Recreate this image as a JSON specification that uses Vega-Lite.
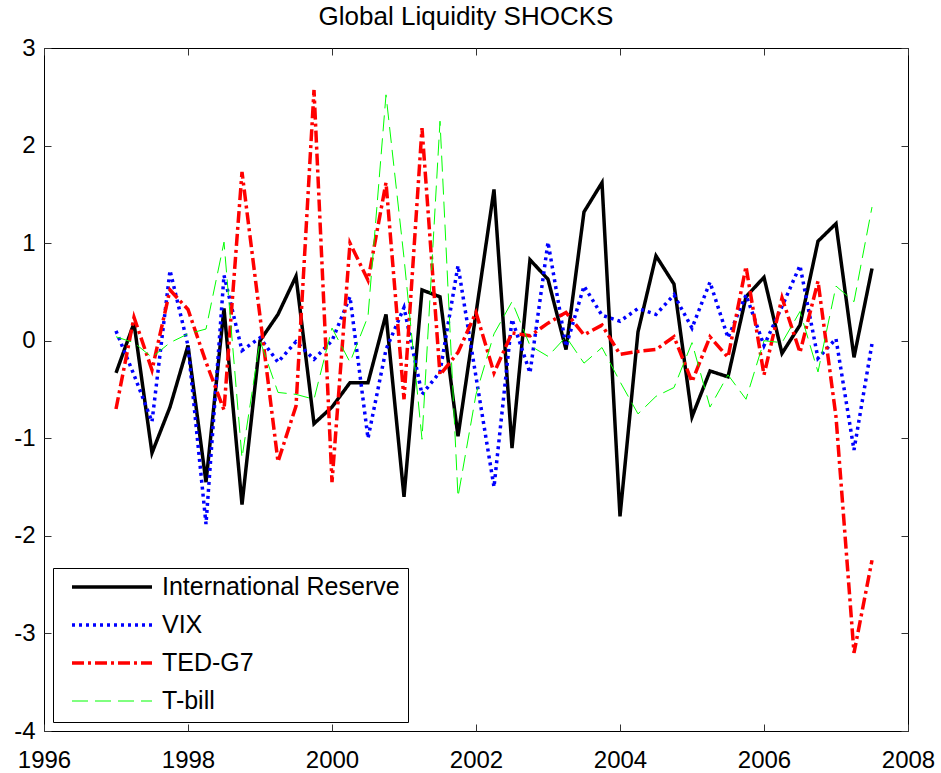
{
  "$schema": "https://vega.github.io/schema/vega-lite/v6.json",
  "width": 864,
  "height": 683,
  "autosize": "none",
  "padding": {"left": 44, "top": 48, "right": 33, "bottom": 42},
  "background": "white",
  "config": {
    "font": "Liberation Sans",
    "view": {"stroke": "black", "strokeWidth": 1},
    "axis": {"grid": false, "domain": false, "tickSize": -7, "tickColor": "#333333", "labelFontSize": 24, "labelColor": "black", "labelFont": "Liberation Sans", "title": null}
  },
  "title": {"text": "Global Liquidity SHOCKS", "fontSize": 26, "fontWeight": "normal", "color": "black", "offset": 6, "dx": -10, "font": "Liberation Sans"},
  "data": {"values": [
    {"date": 1997.00, "International Reserve": -0.33, "VIX": 0.10, "TED-G7": -0.70, "T-bill": 0.04},
    {"date": 1997.25, "International Reserve": 0.18, "VIX": -0.35, "TED-G7": 0.24, "T-bill": -0.02},
    {"date": 1997.50, "International Reserve": -1.15, "VIX": -0.83, "TED-G7": -0.30, "T-bill": -0.17},
    {"date": 1997.75, "International Reserve": -0.68, "VIX": 0.72, "TED-G7": 0.52, "T-bill": -0.02},
    {"date": 1998.00, "International Reserve": -0.05, "VIX": -0.05, "TED-G7": 0.32, "T-bill": 0.07},
    {"date": 1998.25, "International Reserve": -1.45, "VIX": -1.88, "TED-G7": -0.22, "T-bill": 0.12},
    {"date": 1998.50, "International Reserve": 0.33, "VIX": 0.67, "TED-G7": -0.71, "T-bill": 1.01},
    {"date": 1998.75, "International Reserve": -1.68, "VIX": -0.10, "TED-G7": 1.73, "T-bill": -1.20},
    {"date": 1999.00, "International Reserve": 0.00, "VIX": 0.03, "TED-G7": 0.25, "T-bill": 0.00},
    {"date": 1999.25, "International Reserve": 0.27, "VIX": -0.22, "TED-G7": -1.24, "T-bill": -0.53},
    {"date": 1999.50, "International Reserve": 0.66, "VIX": -0.01, "TED-G7": -0.67, "T-bill": -0.55},
    {"date": 1999.75, "International Reserve": -0.85, "VIX": -0.19, "TED-G7": 2.57, "T-bill": -0.60},
    {"date": 2000.00, "International Reserve": -0.68, "VIX": 0.00, "TED-G7": -1.45, "T-bill": 0.13},
    {"date": 2000.25, "International Reserve": -0.43, "VIX": 0.45, "TED-G7": 1.00, "T-bill": -0.22},
    {"date": 2000.50, "International Reserve": -0.43, "VIX": -1.00, "TED-G7": 0.62, "T-bill": 0.25},
    {"date": 2000.75, "International Reserve": 0.27, "VIX": -0.09, "TED-G7": 1.62, "T-bill": 2.52},
    {"date": 2001.00, "International Reserve": -1.60, "VIX": 0.34, "TED-G7": -0.60, "T-bill": 0.85},
    {"date": 2001.25, "International Reserve": 0.52, "VIX": -0.55, "TED-G7": 2.18, "T-bill": -1.01},
    {"date": 2001.50, "International Reserve": 0.45, "VIX": -0.32, "TED-G7": -0.35, "T-bill": 2.25},
    {"date": 2001.75, "International Reserve": -0.98, "VIX": 0.77, "TED-G7": -0.12, "T-bill": -1.60},
    {"date": 2002.00, "International Reserve": 0.28, "VIX": -0.37, "TED-G7": 0.29, "T-bill": -0.55},
    {"date": 2002.25, "International Reserve": 1.55, "VIX": -1.50, "TED-G7": -0.33, "T-bill": 0.07},
    {"date": 2002.50, "International Reserve": -1.10, "VIX": 0.22, "TED-G7": 0.08, "T-bill": 0.40},
    {"date": 2002.75, "International Reserve": 0.83, "VIX": -0.33, "TED-G7": 0.05, "T-bill": -0.05},
    {"date": 2003.00, "International Reserve": 0.63, "VIX": 1.01, "TED-G7": 0.18, "T-bill": -0.16},
    {"date": 2003.25, "International Reserve": -0.09, "VIX": -0.06, "TED-G7": 0.29, "T-bill": 0.04},
    {"date": 2003.50, "International Reserve": 1.32, "VIX": 0.56, "TED-G7": 0.06, "T-bill": -0.23},
    {"date": 2003.75, "International Reserve": 1.62, "VIX": 0.26, "TED-G7": 0.16, "T-bill": -0.07},
    {"date": 2004.00, "International Reserve": -1.80, "VIX": 0.20, "TED-G7": -0.14, "T-bill": -0.42},
    {"date": 2004.25, "International Reserve": 0.09, "VIX": 0.33, "TED-G7": -0.11, "T-bill": -0.75},
    {"date": 2004.50, "International Reserve": 0.87, "VIX": 0.27, "TED-G7": -0.09, "T-bill": -0.57},
    {"date": 2004.75, "International Reserve": 0.58, "VIX": 0.47, "TED-G7": 0.04, "T-bill": -0.48},
    {"date": 2005.00, "International Reserve": -0.78, "VIX": 0.13, "TED-G7": -0.42, "T-bill": -0.02},
    {"date": 2005.25, "International Reserve": -0.31, "VIX": 0.60, "TED-G7": 0.04, "T-bill": -0.68},
    {"date": 2005.50, "International Reserve": -0.37, "VIX": 0.03, "TED-G7": -0.17, "T-bill": -0.35},
    {"date": 2005.75, "International Reserve": 0.45, "VIX": 0.47, "TED-G7": 0.76, "T-bill": -0.60},
    {"date": 2006.00, "International Reserve": 0.65, "VIX": -0.05, "TED-G7": -0.35, "T-bill": 0.00},
    {"date": 2006.25, "International Reserve": -0.13, "VIX": 0.35, "TED-G7": 0.44, "T-bill": -0.02},
    {"date": 2006.50, "International Reserve": 0.16, "VIX": 0.77, "TED-G7": -0.12, "T-bill": 0.30},
    {"date": 2006.75, "International Reserve": 1.02, "VIX": -0.18, "TED-G7": 0.61, "T-bill": -0.32},
    {"date": 2007.00, "International Reserve": 1.20, "VIX": 0.02, "TED-G7": -0.78, "T-bill": 0.56},
    {"date": 2007.25, "International Reserve": -0.17, "VIX": -1.12, "TED-G7": -3.20, "T-bill": 0.40},
    {"date": 2007.50, "International Reserve": 0.74, "VIX": -0.03, "TED-G7": -2.25, "T-bill": 1.37}
  ]},
  "transform": [
    {"fold": ["International Reserve", "VIX", "TED-G7", "T-bill"], "as": ["series", "value"]}
  ],
  "resolve": {"axis": {"x": "independent", "y": "independent"}},
  "layer": [
    {
      "mark": {"type": "line", "strokeCap": "butt", "strokeJoin": "miter"},
      "encoding": {
        "x": {"field": "date", "type": "quantitative", "scale": {"domain": [1996, 2008], "nice": false, "zero": false},
              "axis": {"orient": "bottom", "values": [1996, 1998, 2000, 2002, 2004, 2006, 2008], "labelExpr": "datum.value + ''", "labelPadding": 24, "labelFlush": false}},
        "y": {"field": "value", "type": "quantitative", "scale": {"domain": [-4, 3], "nice": false, "zero": false},
              "axis": {"orient": "left", "values": [-4, -3, -2, -1, 0, 1, 2, 3], "labelExpr": "datum.value + ''", "labelPadding": 16, "labelFlush": false}},
        "color": {"field": "series", "type": "nominal",
                  "scale": {"domain": ["International Reserve", "VIX", "TED-G7", "T-bill"], "range": ["#000000", "#0000FF", "#FF0000", "#00FF00"]},
                  "legend": {"title": null, "orient": "bottom-left", "offset": 9, "padding": 8, "strokeColor": "black", "fillColor": "white",
                             "symbolType": "stroke", "symbolSize": 6400, "symbolOffset": 9, "labelFontSize": 25, "labelColor": "black", "labelFont": "Liberation Sans",
                             "clipHeight": 22, "rowPadding": 13, "labelOffset": 8, "labelLimit": 400, "cornerRadius": 0}},
        "strokeDash": {"field": "series", "type": "nominal",
                       "scale": {"type": "ordinal", "domain": ["International Reserve", "VIX", "TED-G7", "T-bill"], "range": [[1, 0], [3, 4], [12, 4, 3, 4], [16, 7]]},
                       "legend": null},
        "strokeWidth": {"field": "series", "type": "nominal",
                        "scale": {"type": "ordinal", "domain": ["International Reserve", "VIX", "TED-G7", "T-bill"], "range": [3.5, 3.5, 3.5, 1]},
                        "legend": null}
      }
    },
    {
      "mark": {"type": "line", "opacity": 0},
      "encoding": {
        "x": {"field": "date", "type": "quantitative", "axis": {"orient": "top", "values": [1996, 1998, 2000, 2002, 2004, 2006, 2008], "labels": false}},
        "y": {"field": "value", "type": "quantitative", "axis": {"orient": "right", "values": [-4, -3, -2, -1, 0, 1, 2, 3], "labels": false}}
      }
    }
  ]
}
